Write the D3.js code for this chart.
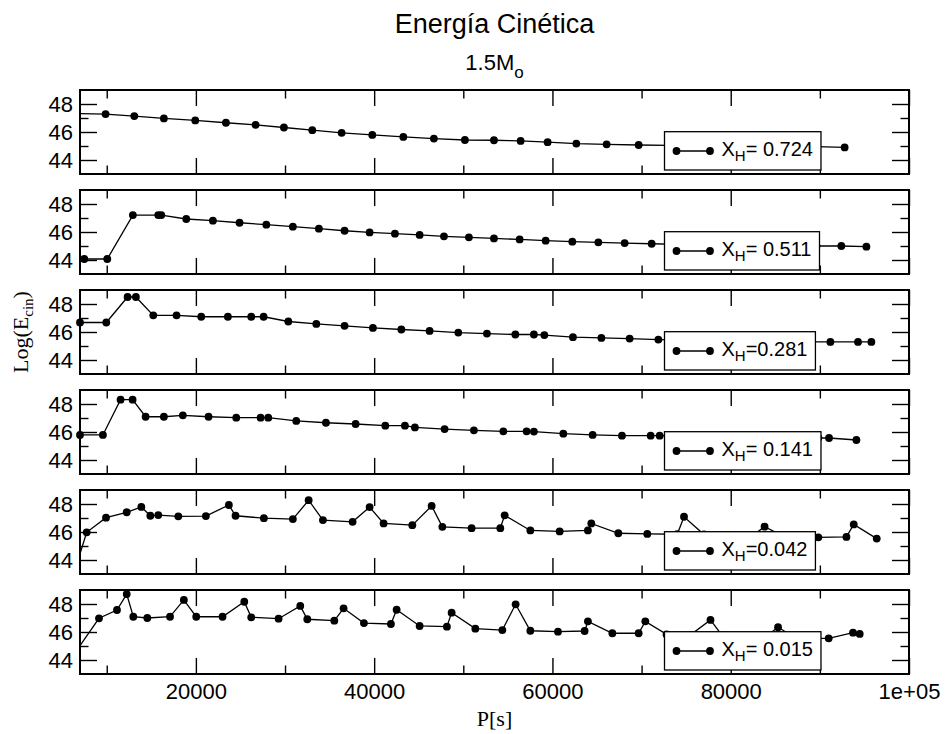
<!DOCTYPE html>
<html>
<head>
  <meta charset="utf-8">
  <script src="https://d3js.org/d3.v7.min.js"></script>
  <style>
    body { margin: 0; background: #fff; }
    .tick text { font-family: "Liberation Sans", Arial, sans-serif; font-size: 22px; fill: #000; }
    .tick line { stroke: #000; stroke-width: 1.4px; }
    .series { fill: none; stroke: #000; stroke-width: 1.3px; }
  </style>
</head>
<body>
  <div id="chart"></div>
  <script>
    // legend labels, top to bottom
    var xhLabels = ["= 0.724", "= 0.511", "=0.281", "= 0.141", "=0.042", "= 0.015"];

    // period P[s] and Log(E_cin) for each panel (points below 7000 lie left of the frame)
    var period724 = [6000, 9870, 13090, 16410, 19930, 23370, 26700, 29875, 33060, 36350, 39790, 43270, 46700, 50180, 53440, 56430, 59460, 62680, 66080, 69670, 73000, 76300, 79600, 83000, 86300, 89600, 92780];
    var logE724 = [47.32, 47.28, 47.14, 46.97, 46.83, 46.66, 46.51, 46.32, 46.13, 45.94, 45.79, 45.65, 45.53, 45.43, 45.41, 45.36, 45.27, 45.17, 45.12, 45.07, 45.05, 45.03, 45.02, 45.0, 44.98, 44.95, 44.9];

    var period511 = [6000, 7480, 10060, 12930, 15780, 16120, 18920, 21910, 24900, 27900, 30880, 33800, 36680, 39490, 42330, 45100, 47830, 50630, 53440, 56320, 59240, 62230, 65150, 68100, 71130, 74200, 77300, 80400, 83500, 86600, 89620, 92410, 95220];
    var logE511 = [44.07, 44.07, 44.07, 47.21, 47.21, 47.21, 46.93, 46.81, 46.66, 46.52, 46.38, 46.24, 46.09, 45.97, 45.88, 45.79, 45.69, 45.62, 45.54, 45.47, 45.38, 45.31, 45.26, 45.21, 45.16, 45.12, 45.09, 45.06, 45.04, 45.02, 45.0, 45.0, 44.95];

    var period281 = [7000, 9950, 12340, 13270, 15220, 17830, 20600, 23590, 26210, 27600, 30370, 33510, 36680, 39860, 43050, 46220, 49440, 52650, 55840, 57920, 59090, 62300, 65490, 68660, 71880, 75000, 78000, 81000, 84000, 87000, 91180, 94280, 95780];
    var logE281 = [46.68, 46.68, 48.5, 48.5, 47.19, 47.19, 47.09, 47.09, 47.09, 47.09, 46.75, 46.58, 46.44, 46.29, 46.18, 46.08, 45.96, 45.89, 45.82, 45.82, 45.78, 45.63, 45.58, 45.53, 45.46, 45.42, 45.38, 45.35, 45.32, 45.3, 45.29, 45.29, 45.29];

    var period141 = [7000, 9570, 11550, 12900, 14360, 16410, 18540, 21420, 24530, 27260, 28120, 31260, 34590, 37920, 41250, 43450, 44570, 47900, 51190, 54490, 57100, 57920, 61220, 64510, 67800, 71020, 72030, 75000, 78000, 81000, 84000, 87000, 89830, 91030, 94100];
    var logE141 = [45.79, 45.79, 48.31, 48.31, 47.09, 47.09, 47.19, 47.09, 47.02, 47.02, 47.02, 46.79, 46.66, 46.57, 46.45, 46.45, 46.33, 46.21, 46.12, 46.05, 46.05, 46.03, 45.88, 45.79, 45.74, 45.74, 45.74, 45.7, 45.67, 45.64, 45.62, 45.6, 45.57, 45.57, 45.43];

    var period042 = [6000, 7750, 9917, 12240, 13880, 14890, 15780, 18030, 21120, 23700, 24450, 27630, 30880, 32650, 34250, 37580, 39490, 41060, 44280, 46450, 47650, 50930, 54150, 54640, 57520, 60810, 63980, 64360, 67390, 70640, 74000, 74760, 77000, 80000, 82500, 83800, 86000, 89830, 92980, 93800, 96380];
    var logE042 = [42.4, 45.98, 47.02, 47.41, 47.79, 47.16, 47.21, 47.12, 47.14, 47.93, 47.16, 46.99, 46.92, 48.27, 46.85, 46.73, 47.78, 46.61, 46.49, 47.86, 46.37, 46.27, 46.27, 47.19, 46.11, 46.04, 46.11, 46.61, 45.91, 45.86, 45.84, 47.09, 45.82, 45.79, 45.76, 46.38, 45.68, 45.62, 45.65, 46.54, 45.53];

    var period015 = [6000, 9130, 11150, 12240, 12980, 14550, 17100, 18650, 20040, 22990, 25430, 26210, 29280, 31710, 32500, 35530, 36570, 38850, 41880, 42520, 45100, 48160, 48690, 51350, 54380, 55870, 57520, 60620, 63610, 63980, 66720, 69670, 70420, 72800, 75500, 77730, 79000, 82000, 84000, 85310, 87000, 89000, 90990, 93720, 94470];
    var logE015 = [44.1, 46.98, 47.57, 48.71, 47.09, 47.0, 47.09, 48.29, 47.09, 47.09, 48.16, 47.05, 46.95, 47.86, 46.91, 46.81, 47.69, 46.64, 46.57, 47.59, 46.43, 46.38, 47.38, 46.24, 46.14, 47.98, 46.09, 46.02, 46.07, 46.76, 45.91, 45.91, 46.76, 45.83, 45.8, 46.86, 45.78, 45.74, 45.72, 46.34, 45.68, 45.55, 45.55, 45.95, 45.86];

    var periods = [period724, period511, period281, period141, period042, period015];
    var energies = [logE724, logE511, logE281, logE141, logE042, logE015];

    var width = 946, height = 734;
    var left = 80, right = 909, panelTop = 90, panelStep = 100, panelH = 84;
    var sans = "'Liberation Sans', Arial, sans-serif";
    var serif = "'Liberation Serif', 'Times New Roman', serif";

    var svg = d3.select("#chart").append("svg")
      .attr("width", width)
      .attr("height", height)
      .style("background", "#fff");

    var x = d3.scaleLinear().domain([7000, 100000]).range([left, right]);

    var xMajor = [20000, 40000, 60000, 80000, 100000];
    var xMinor = [10000, 30000, 50000, 70000, 90000];
    var fmtX = function (d) { return d >= 100000 ? "1e+05" : String(d); };

    var defs = svg.append("defs");

    periods.forEach(function (per, i) {
      var top = panelTop + i * panelStep;
      var bottom = top + panelH;
      var y = d3.scaleLinear().domain([43, 49]).range([bottom, top]);
      var g = svg.append("g");
      var last = i === periods.length - 1;

      defs.append("clipPath").attr("id", "clip" + i)
        .append("rect")
        .attr("x", left).attr("y", top)
        .attr("width", right - left).attr("height", panelH);

      // ticks (inward)
      g.append("g").attr("transform", "translate(" + left + ",0)")
        .call(d3.axisLeft(y).tickValues([44, 46, 48]).tickSize(-17).tickPadding(7).tickFormat(d3.format("d")));
      g.append("g").attr("transform", "translate(" + left + ",0)")
        .call(d3.axisLeft(y).tickValues([45, 47]).tickSize(-8.5).tickFormat(""));
      g.append("g").attr("transform", "translate(" + right + ",0)")
        .call(d3.axisRight(y).tickValues([44, 46, 48]).tickSize(-17).tickFormat(""));
      g.append("g").attr("transform", "translate(" + right + ",0)")
        .call(d3.axisRight(y).tickValues([45, 47]).tickSize(-8.5).tickFormat(""));

      g.append("g").attr("transform", "translate(0," + bottom + ")")
        .call(d3.axisBottom(x).tickValues(xMajor).tickSize(-16).tickPadding(9)
          .tickFormat(last ? fmtX : function () { return ""; }));
      g.append("g").attr("transform", "translate(0," + bottom + ")")
        .call(d3.axisBottom(x).tickValues(xMinor).tickSize(-8.5).tickFormat(""));
      g.append("g").attr("transform", "translate(0," + top + ")")
        .call(d3.axisTop(x).tickValues(xMajor).tickSize(-16).tickFormat(""));
      g.append("g").attr("transform", "translate(0," + top + ")")
        .call(d3.axisTop(x).tickValues(xMinor).tickSize(-8.5).tickFormat(""));

      g.selectAll(".domain").remove();
      g.selectAll(".tick text").attr("font-family", sans);

      var pts = per.map(function (p, k) { return [p, energies[i][k]]; });

      g.append("path")
        .datum(pts)
        .attr("class", "series")
        .attr("clip-path", "url(#clip" + i + ")")
        .attr("d", d3.line().x(function (d) { return x(d[0]); }).y(function (d) { return y(d[1]); }));

      g.selectAll("circle.pt")
        .data(pts.filter(function (d) { return d[0] >= 7000 && d[0] <= 100000; }))
        .enter().append("circle")
        .attr("class", "pt")
        .attr("cx", function (d) { return x(d[0]); })
        .attr("cy", function (d) { return y(d[1]); })
        .attr("r", 3.9)
        .attr("fill", "#000");

      // frame
      g.append("rect")
        .attr("x", left).attr("y", top)
        .attr("width", right - left).attr("height", panelH)
        .attr("fill", "none").attr("stroke", "#000").attr("stroke-width", 2);

      // legend
      var lg = g.append("g").attr("transform", "translate(664.5," + (top + 41.7) + ")");
      var box = lg.append("rect")
        .attr("x", 0).attr("y", 0).attr("height", 38.3)
        .attr("fill", "#fff").attr("stroke", "#000").attr("stroke-width", 1.3);
      lg.append("line").attr("x1", 12).attr("x2", 45.5).attr("y1", 19.3).attr("y2", 19.3)
        .attr("stroke", "#000").attr("stroke-width", 1.3);
      lg.selectAll("circle").data([12, 45.5]).enter().append("circle")
        .attr("cx", function (d) { return d; }).attr("cy", 19.3).attr("r", 3.9).attr("fill", "#000");
      var t = lg.append("text").attr("x", 57).attr("y", 24)
        .attr("font-family", sans).attr("font-size", 20);
      t.append("tspan").text("X");
      t.append("tspan").attr("font-size", 15).attr("dy", 5).text("H");
      t.append("tspan").attr("dy", -5).text(xhLabels[i]);
      var bb = t.node().getBBox();
      box.attr("width", bb.x + bb.width + 8);
    });

    // titles
    svg.append("text")
      .attr("x", (left + right) / 2).attr("y", 33)
      .attr("text-anchor", "middle")
      .attr("font-family", sans).attr("font-size", 27)
      .text("Energía Cinética");

    var sub = svg.append("text")
      .attr("x", (left + right) / 2).attr("y", 70)
      .attr("text-anchor", "middle")
      .attr("font-family", sans).attr("font-size", 22);
    sub.append("tspan").text("1.5M");
    sub.append("tspan").attr("font-size", 17).attr("dy", 8).text("o");

    // axis labels
    svg.append("text")
      .attr("x", (left + right) / 2).attr("y", 726)
      .attr("text-anchor", "middle")
      .attr("font-family", serif).attr("font-size", 22)
      .text("P[s]");

    var yl = svg.append("text")
      .attr("transform", "translate(28,332) rotate(-90)")
      .attr("text-anchor", "middle")
      .attr("font-family", serif).attr("font-size", 22);
    yl.append("tspan").text("Log(E");
    yl.append("tspan").attr("font-size", 15).attr("dy", 5).text("cin");
    yl.append("tspan").attr("dy", -5).text(")");
  </script>
</body>
</html>
